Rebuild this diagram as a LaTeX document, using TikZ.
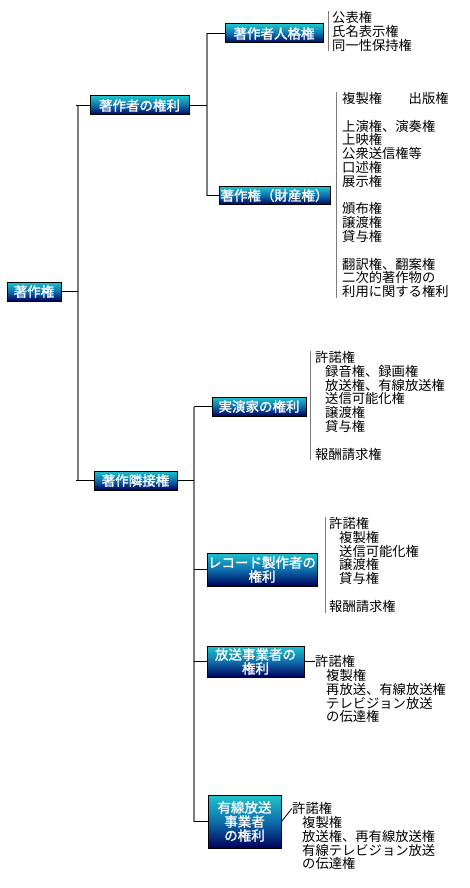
\documentclass[tikz,border=0pt]{standalone}
\usepackage{fontspec}
\setmainfont{Noto Sans CJK JP}
\newfontfamily\boxfont[AutoFakeBold=1.2]{Noto Sans CJK JP}
\usetikzlibrary{calc}
\definecolor{Tc}{HTML}{1FC4CC}
\definecolor{Mc}{HTML}{0E6EAC}
\definecolor{Nc}{HTML}{00005C}
\definecolor{busc}{HTML}{7C7C7C}
\tikzset{
  hbox/.style={draw=black, line width=1pt, top color=Tc, bottom color=Nc, middle color=Mc,
    text=white, inner sep=0pt, align=center, font=\boxfont\bfseries\fontsize{13.5}{14}\selectfont},
  lst/.style={anchor=north west, inner sep=0pt, align=left, font=\fontsize{13.3}{13.8}\selectfont},
  tick/.style={black, line width=0.8pt},
  bus/.style={busc, line width=1.6pt},
  brk/.style={busc, line width=1pt},
}
\newcommand{\ind}{\hspace*{10pt}}

\begin{document}
\begin{tikzpicture}[x=1pt, y=-1pt]
  \useasboundingbox (0,0) rectangle (470,888);
  \coordinate (b0) at (78,0);
  \coordinate (b1) at (207,0);
  \coordinate (b2) at (194,0);
  \node[hbox, minimum width=54, minimum height=19] (root) at (34,291.5) {著作権};
  \node[hbox, minimum width=99, minimum height=19] (author) at (139.5,105.5) {著作者の権利};
  \node[hbox, minimum width=98, minimum height=19] (moral) at (274,33.5) {著作者人格権};
  \node[hbox, minimum width=111, minimum height=18] (prop) at (274.5,195.5) {著作権（財産権）};
  \node[hbox, minimum width=83, minimum height=19] (neigh) at (135.5,480.5) {著作隣接権};
  \node[hbox, minimum width=94, minimum height=19] (perf) at (259,406.5) {実演家の権利};
  \node[hbox, minimum width=110, minimum height=33] (rec) at (262,569.5) {レコード製作者の\\権利};
  \node[hbox, minimum width=97, minimum height=31] (bc) at (255.5,661.5) {放送事業者の\\権利};
  \node[hbox, minimum width=73, minimum height=53] (cable) at (244.5,821.5) {有線放送\\事業者\\の権利};
  \node[lst] (morall) at (332,11) {公表権\\氏名表示権\\同一性保持権};
  \node[lst] (propl) at (342,92) {複製権　　出版権\\ \\上演権、演奏権\\上映権\\公衆送信権等\\口述権\\展示権\\ \\頒布権\\譲渡権\\貸与権\\ \\翻訳権、翻案権\\二次的著作物の\\利用に関する権利};
  \node[lst] (perfl) at (315,351) {許諾権\\\ind 録音権、録画権\\\ind 放送権、有線放送権\\\ind 送信可能化権\\\ind 譲渡権\\\ind 貸与権\\ \\報酬請求権};
  \node[lst] (recl) at (329,517) {許諾権\\\ind 複製権\\\ind 送信可能化権\\\ind 譲渡権\\\ind 貸与権\\ \\報酬請求権};
  \node[lst] (bcg) at (315,655) {許諾権};
  \node[lst] (bci) at (326,669) {複製権\\再放送、有線放送権\\テレビジョン放送\\の伝達権};
  \node[lst] (cableg) at (292,802) {許諾権};
  \node[lst] (cablei) at (302,816) {複製権\\放送権、再有線放送権\\有線テレビジョン放送\\の伝達権};
  \draw[bus] (author.west -| b0) -- (neigh.west -| b0);
  \draw[bus] (moral.west -| b1) -- (prop.west -| b1);
  \draw[bus] (perf.west -| b2) -- (cable.west -| b2);
  \draw[tick] (root.east) -- (root.east -| b0);
  \draw[tick] ([xshift=-2pt]author.west -| b0) -- (author.west);
  \draw[tick] ([xshift=-2pt]neigh.west -| b0) -- (neigh.west);
  \draw[tick] (author.east) -- (author.east -| b1);
  \draw[tick] (moral.west -| b1) -- (moral.west);
  \draw[tick] (prop.west -| b1) -- (prop.west);
  \draw[tick] (neigh.east) -- (neigh.east -| b2);
  \foreach \k in {perf,rec,bc,cable}
    \draw[tick] (\k.west -| b2) -- (\k.west);
  \draw[tick] (bc.east) -- (bcg.west);
  \draw[tick] (cable.east) -- (cableg.west);
  \foreach \k/\s in {morall/4,propl/6,perfl/5,recl/4}
    \draw[brk] ([xshift=-\s pt]\k.north west) -- ([xshift=-\s pt]\k.south west);
\end{tikzpicture}
\end{document}
